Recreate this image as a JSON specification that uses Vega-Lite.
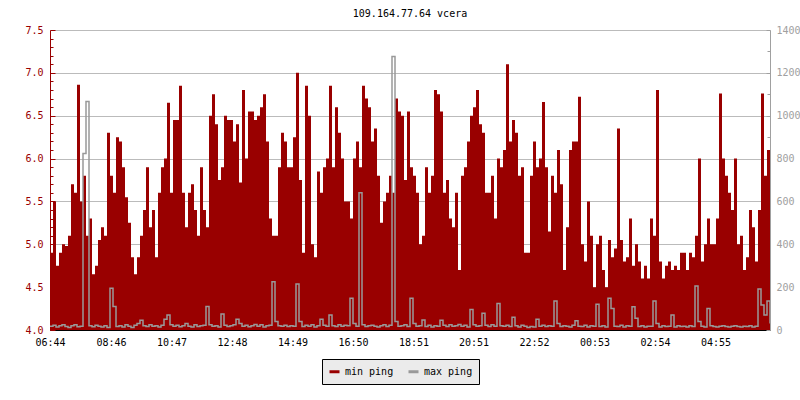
{
"$schema":"https://vega.github.io/schema/vega-lite/v6.json",
"width":720,"height":300,
"autosize":{"type":"none"},
"padding":{"left":50,"top":30,"right":30,"bottom":70},
"background":"white",
"title":{"text":"109.164.77.64 vcera","font":"DejaVu Sans Mono","fontSize":10,"fontWeight":"normal","color":"black","offset":6,"anchor":"middle"},
"config":{"view":{"stroke":null},"font":"DejaVu Sans Mono",
 "legend":{"orient":"none","legendX":272,"legendY":329,"direction":"horizontal","fillColor":"#ebebeb","strokeColor":"black","padding":6,"title":null,"labelFont":"DejaVu Sans Mono","labelFontSize":10,"labelColor":"black","symbolType":"stroke","symbolStrokeWidth":3,"symbolSize":100,"columnPadding":8,"labelOffset":4}},
"data":{"values":[
{"t":0,"lo":4.9,"hi":18},{"t":6,"lo":5.5,"hi":22},{"t":12,"lo":4.75,"hi":14},{"t":18,"lo":4.9,"hi":20},{"t":24,"lo":5.0,"hi":25},{"t":30,"lo":4.98,"hi":16},{"t":36,"lo":5.1,"hi":12},{"t":42,"lo":5.7,"hi":20},{"t":48,"lo":5.6,"hi":24},{"t":54,"lo":6.86,"hi":15},
{"t":60,"lo":5.5,"hi":18},{"t":66,"lo":5.8,"hi":824},{"t":72,"lo":5.1,"hi":1066},{"t":78,"lo":5.3,"hi":20},{"t":84,"lo":4.65,"hi":15},{"t":90,"lo":4.75,"hi":22},{"t":96,"lo":5.05,"hi":18},{"t":102,"lo":5.2,"hi":14},{"t":108,"lo":5.1,"hi":20},{"t":114,"lo":6.3,"hi":12},
{"t":120,"lo":5.8,"hi":195},{"t":126,"lo":5.6,"hi":110},{"t":132,"lo":6.25,"hi":16},{"t":138,"lo":6.2,"hi":20},{"t":144,"lo":5.9,"hi":14},{"t":150,"lo":5.55,"hi":25},{"t":156,"lo":5.25,"hi":18},{"t":162,"lo":4.85,"hi":12},{"t":168,"lo":4.65,"hi":22},{"t":174,"lo":4.85,"hi":30},
{"t":180,"lo":5.1,"hi":45},{"t":186,"lo":5.4,"hi":20},{"t":192,"lo":5.9,"hi":16},{"t":198,"lo":5.2,"hi":24},{"t":204,"lo":5.4,"hi":18},{"t":210,"lo":4.85,"hi":20},{"t":216,"lo":5.6,"hi":14},{"t":222,"lo":5.9,"hi":22},{"t":228,"lo":6.0,"hi":50},{"t":234,"lo":6.65,"hi":70},
{"t":240,"lo":5.6,"hi":25},{"t":246,"lo":6.45,"hi":18},{"t":252,"lo":6.45,"hi":22},{"t":258,"lo":6.85,"hi":15},{"t":264,"lo":5.6,"hi":20},{"t":270,"lo":5.2,"hi":30},{"t":276,"lo":5.6,"hi":18},{"t":282,"lo":5.7,"hi":14},{"t":288,"lo":5.4,"hi":24},{"t":294,"lo":5.1,"hi":16},
{"t":300,"lo":5.9,"hi":20},{"t":306,"lo":5.4,"hi":22},{"t":312,"lo":5.2,"hi":110},{"t":318,"lo":6.5,"hi":25},{"t":324,"lo":6.75,"hi":18},{"t":330,"lo":6.4,"hi":20},{"t":336,"lo":5.75,"hi":14},{"t":342,"lo":5.9,"hi":75},{"t":348,"lo":6.5,"hi":22},{"t":354,"lo":6.45,"hi":16},
{"t":360,"lo":6.45,"hi":20},{"t":366,"lo":6.2,"hi":24},{"t":372,"lo":6.4,"hi":50},{"t":378,"lo":5.72,"hi":30},{"t":384,"lo":6.8,"hi":18},{"t":390,"lo":6.0,"hi":22},{"t":396,"lo":6.55,"hi":15},{"t":402,"lo":6.55,"hi":20},{"t":408,"lo":6.45,"hi":26},{"t":414,"lo":6.5,"hi":18},
{"t":420,"lo":6.6,"hi":24},{"t":426,"lo":6.75,"hi":14},{"t":432,"lo":6.2,"hi":20},{"t":438,"lo":5.3,"hi":22},{"t":444,"lo":5.1,"hi":225},{"t":450,"lo":5.1,"hi":40},{"t":456,"lo":5.9,"hi":20},{"t":462,"lo":6.3,"hi":18},{"t":468,"lo":6.2,"hi":22},{"t":474,"lo":5.9,"hi":16},
{"t":480,"lo":5.9,"hi":20},{"t":486,"lo":6.25,"hi":18},{"t":492,"lo":7.0,"hi":215},{"t":498,"lo":5.75,"hi":40},{"t":504,"lo":4.9,"hi":16},{"t":510,"lo":6.85,"hi":22},{"t":516,"lo":6.5,"hi":18},{"t":522,"lo":5.0,"hi":24},{"t":528,"lo":4.85,"hi":14},{"t":534,"lo":5.85,"hi":20},
{"t":540,"lo":5.6,"hi":50},{"t":546,"lo":5.9,"hi":22},{"t":552,"lo":6.0,"hi":18},{"t":558,"lo":6.85,"hi":70},{"t":564,"lo":5.9,"hi":20},{"t":570,"lo":6.6,"hi":16},{"t":576,"lo":6.3,"hi":24},{"t":582,"lo":6.0,"hi":18},{"t":588,"lo":5.5,"hi":22},{"t":594,"lo":5.5,"hi":20},
{"t":600,"lo":5.3,"hi":148},{"t":606,"lo":6.0,"hi":30},{"t":612,"lo":6.2,"hi":18},{"t":618,"lo":5.9,"hi":640},{"t":624,"lo":6.85,"hi":24},{"t":630,"lo":6.7,"hi":16},{"t":636,"lo":6.6,"hi":20},{"t":642,"lo":6.2,"hi":22},{"t":648,"lo":6.35,"hi":18},{"t":654,"lo":5.8,"hi":14},
{"t":660,"lo":5.25,"hi":20},{"t":666,"lo":5.5,"hi":24},{"t":672,"lo":5.6,"hi":16},{"t":678,"lo":5.8,"hi":22},{"t":684,"lo":5.6,"hi":1276},{"t":690,"lo":6.7,"hi":40},{"t":696,"lo":6.55,"hi":18},{"t":702,"lo":6.5,"hi":20},{"t":708,"lo":5.75,"hi":24},{"t":714,"lo":6.55,"hi":16},
{"t":720,"lo":5.9,"hi":148},{"t":726,"lo":5.8,"hi":30},{"t":732,"lo":5.6,"hi":18},{"t":738,"lo":5.0,"hi":20},{"t":744,"lo":5.1,"hi":47},{"t":750,"lo":5.9,"hi":16},{"t":756,"lo":5.6,"hi":22},{"t":762,"lo":5.8,"hi":14},{"t":768,"lo":6.8,"hi":20},{"t":774,"lo":6.75,"hi":18},
{"t":780,"lo":6.55,"hi":45},{"t":786,"lo":5.6,"hi":22},{"t":792,"lo":5.75,"hi":16},{"t":798,"lo":5.3,"hi":24},{"t":804,"lo":5.2,"hi":18},{"t":810,"lo":5.6,"hi":20},{"t":816,"lo":4.7,"hi":26},{"t":822,"lo":5.8,"hi":18},{"t":828,"lo":5.9,"hi":22},{"t":834,"lo":6.2,"hi":14},
{"t":840,"lo":6.5,"hi":96},{"t":846,"lo":6.6,"hi":24},{"t":852,"lo":6.8,"hi":18},{"t":858,"lo":6.4,"hi":20},{"t":864,"lo":6.3,"hi":78},{"t":870,"lo":5.6,"hi":22},{"t":876,"lo":5.6,"hi":16},{"t":882,"lo":5.8,"hi":24},{"t":888,"lo":5.3,"hi":18},{"t":894,"lo":6.0,"hi":124},
{"t":900,"lo":5.9,"hi":20},{"t":906,"lo":6.1,"hi":18},{"t":912,"lo":7.1,"hi":22},{"t":918,"lo":6.2,"hi":16},{"t":924,"lo":6.45,"hi":60},{"t":930,"lo":6.3,"hi":20},{"t":936,"lo":5.8,"hi":14},{"t":942,"lo":5.9,"hi":22},{"t":948,"lo":4.9,"hi":18},{"t":954,"lo":4.9,"hi":12},
{"t":960,"lo":5.8,"hi":16},{"t":966,"lo":6.2,"hi":14},{"t":972,"lo":5.9,"hi":50},{"t":978,"lo":6.0,"hi":18},{"t":984,"lo":6.66,"hi":22},{"t":990,"lo":5.9,"hi":16},{"t":996,"lo":5.15,"hi":20},{"t":1002,"lo":5.8,"hi":18},{"t":1008,"lo":5.6,"hi":135},{"t":1014,"lo":6.1,"hi":30},
{"t":1020,"lo":5.7,"hi":16},{"t":1026,"lo":4.7,"hi":20},{"t":1032,"lo":5.2,"hi":18},{"t":1038,"lo":6.1,"hi":14},{"t":1044,"lo":6.2,"hi":22},{"t":1050,"lo":6.2,"hi":43},{"t":1056,"lo":6.72,"hi":18},{"t":1062,"lo":5.0,"hi":16},{"t":1068,"lo":4.8,"hi":22},{"t":1074,"lo":5.5,"hi":14},
{"t":1080,"lo":5.1,"hi":20},{"t":1086,"lo":4.5,"hi":18},{"t":1092,"lo":5.0,"hi":120},{"t":1098,"lo":5.1,"hi":16},{"t":1104,"lo":4.7,"hi":20},{"t":1110,"lo":4.5,"hi":14},{"t":1116,"lo":5.05,"hi":148},{"t":1122,"lo":4.85,"hi":100},{"t":1128,"lo":4.95,"hi":18},{"t":1134,"lo":6.35,"hi":16},
{"t":1140,"lo":5.05,"hi":22},{"t":1146,"lo":4.8,"hi":14},{"t":1152,"lo":4.85,"hi":20},{"t":1158,"lo":5.3,"hi":18},{"t":1164,"lo":4.75,"hi":109},{"t":1170,"lo":5.0,"hi":55},{"t":1176,"lo":4.8,"hi":16},{"t":1182,"lo":4.6,"hi":20},{"t":1188,"lo":4.75,"hi":14},{"t":1194,"lo":4.6,"hi":18},
{"t":1200,"lo":5.3,"hi":18},{"t":1206,"lo":5.1,"hi":135},{"t":1212,"lo":6.8,"hi":30},{"t":1218,"lo":4.8,"hi":14},{"t":1224,"lo":4.6,"hi":20},{"t":1230,"lo":4.75,"hi":16},{"t":1236,"lo":4.8,"hi":18},{"t":1242,"lo":4.7,"hi":70},{"t":1248,"lo":4.75,"hi":14},{"t":1254,"lo":4.7,"hi":20},
{"t":1260,"lo":4.9,"hi":16},{"t":1266,"lo":4.9,"hi":18},{"t":1272,"lo":4.7,"hi":14},{"t":1278,"lo":4.9,"hi":20},{"t":1284,"lo":4.85,"hi":16},{"t":1290,"lo":5.1,"hi":205},{"t":1296,"lo":6.0,"hi":40},{"t":1302,"lo":4.8,"hi":18},{"t":1308,"lo":5.0,"hi":14},{"t":1314,"lo":5.3,"hi":100},
{"t":1320,"lo":5.0,"hi":20},{"t":1326,"lo":5.0,"hi":16},{"t":1332,"lo":5.3,"hi":14},{"t":1338,"lo":6.76,"hi":18},{"t":1344,"lo":6.0,"hi":20},{"t":1350,"lo":5.8,"hi":16},{"t":1356,"lo":5.6,"hi":14},{"t":1362,"lo":5.4,"hi":18},{"t":1368,"lo":6.0,"hi":20},{"t":1374,"lo":5.0,"hi":16},
{"t":1380,"lo":5.1,"hi":14},{"t":1386,"lo":4.7,"hi":18},{"t":1392,"lo":4.85,"hi":16},{"t":1398,"lo":5.4,"hi":20},{"t":1404,"lo":5.2,"hi":14},{"t":1410,"lo":4.8,"hi":18},{"t":1416,"lo":5.4,"hi":191},{"t":1422,"lo":6.76,"hi":117},{"t":1428,"lo":5.8,"hi":70},{"t":1434,"lo":6.1,"hi":135},
{"t":1440,"lo":6.1,"hi":30}
]},
"encoding":{"x":{"field":"t","type":"quantitative","scale":{"domain":[0,1440],"nice":false,"zero":false},
 "axis":{"title":null,"values":[0,122,243,364,485,606,727,847,968,1089,1210,1331],
  "labelExpr":"pad(''+floor(((datum.value+404)%1440)/60),2,'0','left')+':'+pad(''+((datum.value+404)%60),2,'0','left')",
  "grid":false,"domainColor":"black","tickColor":"black","tickSize":-5,"labelColor":"black","labelFont":"DejaVu Sans Mono","labelFontSize":10,"labelPadding":12,"labelFlush":false,"labelOverlap":false}}},
"layer":[
 {"mark":{"type":"area","interpolate":"step-after","clip":true},
  "encoding":{
   "y":{"field":"lo","type":"quantitative","scale":{"domain":[4,7.5],"nice":false,"zero":false},
    "axis":{"title":null,"orient":"left","values":[4.0,4.1,4.2,4.3,4.4,4.5,4.6,4.7,4.8,4.9,5.0,5.1,5.2,5.3,5.4,5.5,5.6,5.7,5.8,5.9,6.0,6.1,6.2,6.3,6.4,6.5,6.6,6.7,6.8,6.9,7.0,7.1,7.2,7.3,7.4,7.5],
     "labelExpr":"(round(datum.value*10)%5==0) ? format(datum.value,'.1f') : ''",
     "grid":true,"gridColor":"#bbbbbb","gridOpacity":{"condition":{"test":"round(datum.value*10)%5!=0","value":0},"value":1},
     "tickSize":{"condition":{"test":"round(datum.value*10)%5!=0","value":-3},"value":-5},
     "domainColor":"#990000","tickColor":"#990000","labelColor":"#990000","labelFont":"DejaVu Sans Mono","labelFontSize":10,"labelPadding":12,"labelFlush":false,"labelOverlap":false}},
   "y2":{"datum":4},
   "color":{"datum":"min ping","type":"nominal","scale":{"domain":["min ping","max ping"],"range":["#990000","#999999"]}}}},
 {"mark":{"type":"line","interpolate":"step-after","strokeWidth":1.5,"clip":true},
  "encoding":{
   "y":{"field":"hi","type":"quantitative","scale":{"domain":[0,1400],"nice":false},
    "axis":{"title":null,"orient":"right","values":[0,100,200,300,400,500,600,700,800,900,1000,1100,1200,1300,1400],
     "labelExpr":"(datum.value%200==0) ? ''+datum.value : ''",
     "grid":false,"tickSize":{"condition":{"test":"datum.value%200!=0","value":-3},"value":-4},
     "domainColor":"#a0a0a0","tickColor":"#a0a0a0","labelColor":"#a0a0a0","labelFont":"DejaVu Sans Mono","labelFontSize":10,"labelPadding":10,"labelFlush":false,"labelOverlap":false}},
   "color":{"datum":"max ping","type":"nominal"}}}
],
"resolve":{"scale":{"y":"independent"}}
}
